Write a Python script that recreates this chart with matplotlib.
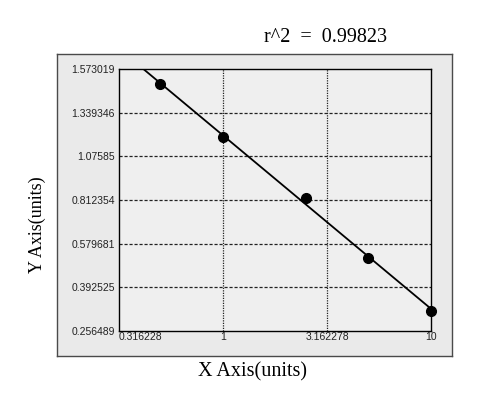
import numpy as np
import matplotlib
matplotlib.use("Agg")
import matplotlib.pyplot as plt

# ---- data ----
x_vals = [0.5, 1.0, 2.5, 5.0, 10.0]
y_vals = [1.491, 1.190, 0.824, 0.520, 0.319]
y_ticks = [0.256489, 0.392525, 0.579681, 0.812354, 1.07585, 1.339346, 1.573019]
y_tick_labels = ["0.256489", "0.392525", "0.579681", "0.812354", "1.07585", "1.339346", "1.573019"]
x_ticks = [0.316228, 1.0, 3.162278, 10.0]
x_tick_labels = ["0.316228", "1", "3.162278", "10"]
r2_text = "r^2  =  0.99823"

W, H = 498, 397
fig = plt.figure(figsize=(W / 100, H / 100), dpi=100)
fig.patch.set_facecolor("white")

# outer gray panel
bg = fig.add_axes([57 / W, 1 - 356 / H, (452 - 57) / W, (356 - 54) / H])
bg.set_facecolor("#eaeaea")
bg.set_xticks([])
bg.set_yticks([])
for s in bg.spines.values():
    s.set_color("#4a4a4a")
    s.set_linewidth(1.0)
bg.set_zorder(0)

ax = fig.add_axes([119 / W, 1 - 331 / H, (431 - 119) / W, (331 - 69) / H])
ax.set_zorder(1)
ax.set_facecolor("#efefef")

pos = np.arange(len(y_ticks), dtype=float)
tick_arr = np.array(y_ticks)

def fwd_ext(y):
    y = np.asarray(y, dtype=float)
    out = np.interp(y, tick_arr, pos)
    lo = y < tick_arr[0]
    hi = y > tick_arr[-1]
    out = np.where(lo, (y - tick_arr[0]) / (tick_arr[1] - tick_arr[0]), out)
    out = np.where(hi, pos[-1] + (y - tick_arr[-1]) / (tick_arr[-1] - tick_arr[-2]), out)
    return out

def inv_ext(p):
    p = np.asarray(p, dtype=float)
    out = np.interp(p, pos, tick_arr)
    lo = p < 0
    hi = p > pos[-1]
    out = np.where(lo, tick_arr[0] + p * (tick_arr[1] - tick_arr[0]), out)
    out = np.where(hi, tick_arr[-1] + (p - pos[-1]) * (tick_arr[-1] - tick_arr[-2]), out)
    return out

ax.set_xscale("log")
ax.set_yscale("function", functions=(fwd_ext, inv_ext))
ax.set_xlim(x_ticks[0], x_ticks[-1])
ax.set_ylim(y_ticks[0], y_ticks[-1])

# fitted line (linear in axis space)
lx = np.log10(np.array(x_vals))
ly = fwd_ext(np.array(y_vals))
k, b = np.polyfit(lx, ly, 1)
xs = np.logspace(np.log10(x_ticks[0]), np.log10(x_vals[-1]), 200)
ys = inv_ext(k * np.log10(xs) + b)
ax.plot(xs, ys, color="black", linewidth=1.3, zorder=3)
ax.plot(x_vals, y_vals, "o", color="black", markersize=7, zorder=4, clip_on=False)

# grid
for yt in y_ticks[1:-1]:
    ax.axhline(yt, color="#222222", linewidth=0.9, linestyle=(0, (2.5, 1.5)), zorder=1)
for xt in x_ticks[1:-1]:
    ax.axvline(xt, color="#222222", linewidth=0.9, linestyle=(0, (1, 1)), zorder=1)

ax.set_xticks(x_ticks)
ax.set_xticklabels(x_tick_labels)
ax.set_yticks(y_ticks)
ax.set_yticklabels(y_tick_labels)
ax.xaxis.set_minor_locator(matplotlib.ticker.NullLocator())
ax.yaxis.set_minor_locator(matplotlib.ticker.NullLocator())
ax.tick_params(axis="both", length=0, labelsize=7.5)
ax.tick_params(axis="y", pad=3)
ax.tick_params(axis="x", pad=1)
for lab in ax.get_xticklabels() + ax.get_yticklabels():
    lab.set_family("Liberation Sans")
    lab.set_color("#222222")
ax.get_xticklabels()[0].set_horizontalalignment("left")

for s in ax.spines.values():
    s.set_color("black")
    s.set_linewidth(1.0)

fig.text(325 / W, 1 - 37 / H, r2_text, ha="center", va="center",
         family="Liberation Serif", fontsize=14.5)
fig.text(252 / W, 1 - 372 / H, "X Axis(units)", ha="center", va="center",
         family="Liberation Serif", fontsize=14.5)
fig.text(37 / W, 1 - 225 / H, "Y Axis(units)", ha="center", va="center",
         rotation=90, family="Liberation Serif", fontsize=13)

fig.savefig("out.png", dpi=100)
